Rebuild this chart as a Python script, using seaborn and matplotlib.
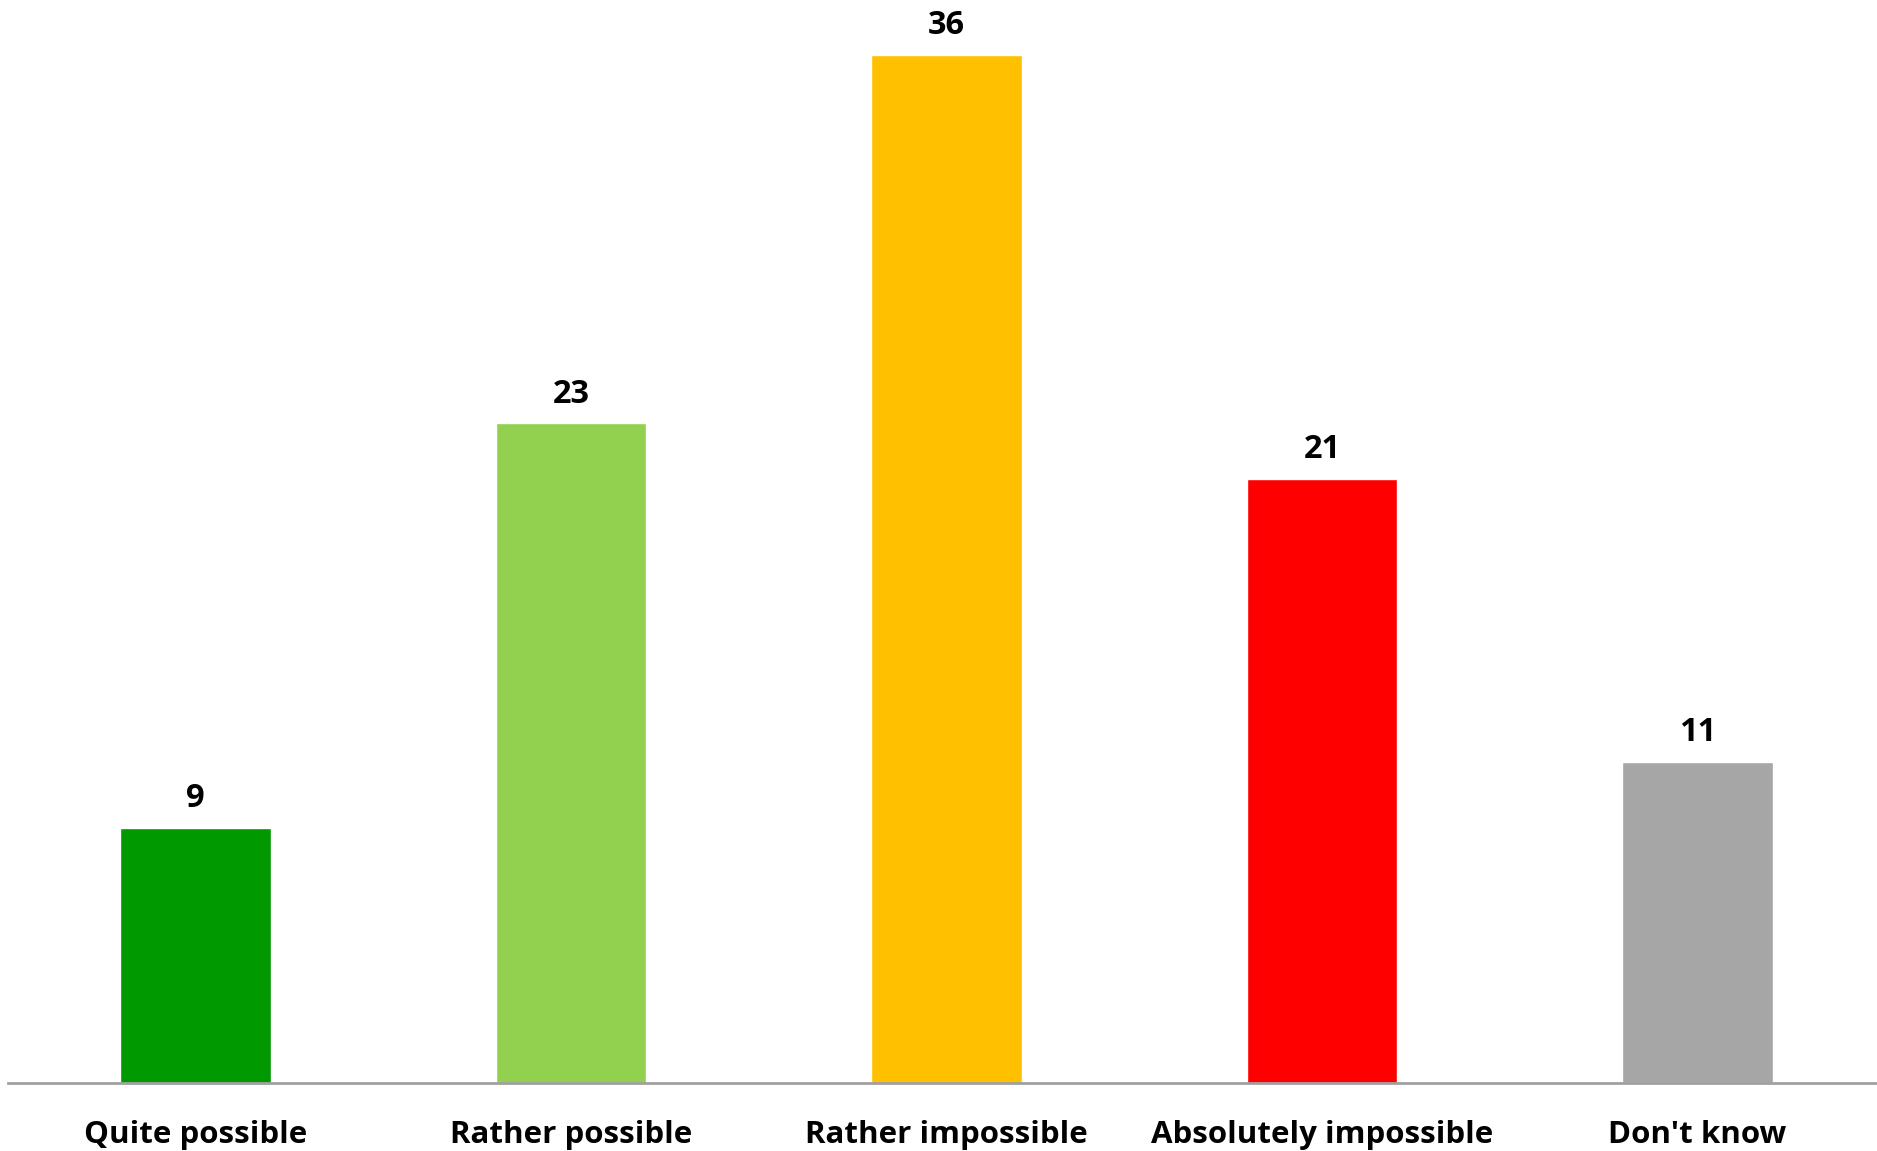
import matplotlib
matplotlib.use("Agg")
import matplotlib.pyplot as plt
import seaborn as sns
import pandas as pd

categories = ["Quite possible", "Rather possible", "Rather impossible", "Absolutely impossible", "Don't know"]
values = [8.93, 23.1, 36.0, 21.16, 11.24]
value_labels = ["9", "23", "36", "21", "11"]
colors = ["#009900", "#92D050", "#FFC000", "#FF0000", "#A6A6A6"]

df = pd.DataFrame({"cat": categories, "val": values})

sns.set_style("white")
plt.rcParams['font.family'] = ['Open Sans', 'DejaVu Sans']

W, H = 1877, 1151
fig = plt.figure(figsize=(W / 100, H / 100), dpi=100)
left = 7.75 / W
ax = fig.add_axes([left, (H - 1083) / H, 1877.5 / W, 1083 / H])

sns.barplot(data=df, x="cat", y="val", hue="cat", palette=colors, legend=False,
            width=0.402, ax=ax, saturation=1)

ax.set_xlim(-0.5, 4.5)
ax.set_ylim(0, 1083 / (1028 / 36))
for s in ["top", "right", "left"]:
    ax.spines[s].set_visible(False)
ax.spines["bottom"].set_color("#A0A0A0")
ax.spines["bottom"].set_linewidth(2)
ax.set_yticks([])
ax.set_xlabel("")
ax.set_ylabel("")
ax.tick_params(axis="x", length=0, pad=26.5, labelsize=22.5, labelcolor="black")
for t in ax.get_xticklabels():
    t.set_fontweight("bold")

for i, (v, lab) in enumerate(zip(values, value_labels)):
    ax.annotate(lab, (i, v), xytext=(0, 15), textcoords="offset points",
                ha="center", va="baseline", fontsize=23.5, fontweight="bold", color="black")

fig.savefig("out.png", dpi=100)
